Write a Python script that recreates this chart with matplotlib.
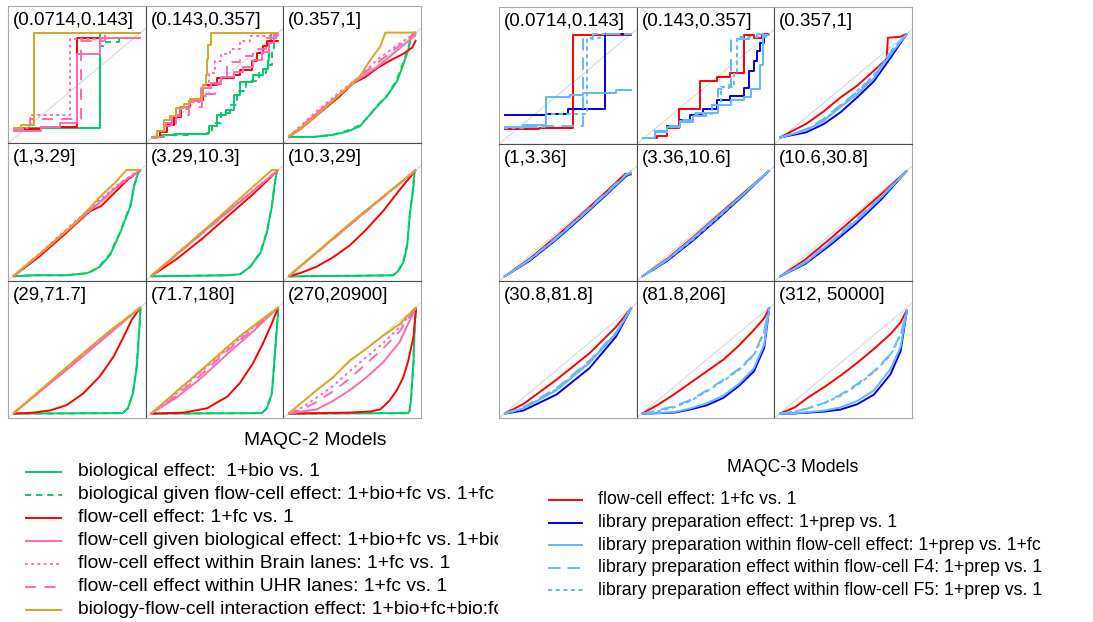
import matplotlib
matplotlib.use("Agg")
import matplotlib.pyplot as plt

plt.rcParams['font.family'] = ['Liberation Sans', 'DejaVu Sans']
plt.rcParams['lines.scale_dashes'] = False

W, H = 1093, 622

# ---------------- MAQC-2 (left grid) ----------------
# one (x, y) pair per count bin
m2_bins = ["(0.0714,0.143]", "(0.143,0.357]", "(0.357,1]",
           "(1,3.29]", "(3.29,10.3]", "(10.3,29]",
           "(29,71.7]", "(71.7,180]", "(270,20900]"]

m2_bio = [
    ([0, 0.68, 1], [0.10, 1.0, 1.0]),
    ([0, 0.07, 0.18, 0.44, 0.46, 0.52, 0.59, 0.65, 0.70, 0.80, 0.88, 0.92, 0.93, 0.94, 1.0],
     [0.02, 0.04, 0.05, 0.06, 0.12, 0.23, 0.27, 0.41, 0.54, 0.60, 0.66, 0.74, 0.90, 1.0, 1.0]),
    ([0, 0.2, 0.35, 0.46, 0.56, 0.61, 0.69, 0.77, 0.85, 0.90, 0.94, 0.96, 0.98, 1.0],
     [0.02, 0.02, 0.04, 0.07, 0.12, 0.19, 0.30, 0.40, 0.54, 0.70, 0.84, 0.96, 1.0, 1.0]),
    ([0, 0.16, 0.42, 0.5, 0.58, 0.62, 0.68, 0.76, 0.84, 0.92, 0.95, 0.98, 1.0],
     [0, 0.01, 0.01, 0.02, 0.03, 0.05, 0.09, 0.20, 0.41, 0.66, 0.85, 0.97, 1.0]),
    ([0, 0.3, 0.6, 0.70, 0.78, 0.86, 0.91, 0.95, 0.97, 0.99],
     [0, 0.005, 0.01, 0.02, 0.09, 0.22, 0.41, 0.66, 0.85, 1.0]),
    ([0, 0.5, 0.82, 0.86, 0.90, 0.93, 0.95, 0.98, 0.99],
     [0, 0.005, 0.01, 0.05, 0.13, 0.28, 0.56, 0.85, 1.0]),
    ([0, 0.5, 0.86, 0.90, 0.94, 0.97, 0.99, 1.0],
     [0, 0.003, 0.005, 0.05, 0.19, 0.44, 0.79, 1.0]),
    ([0, 0.5, 0.87, 0.91, 0.95, 0.97, 0.99, 1.0],
     [0, 0.003, 0.005, 0.05, 0.19, 0.51, 0.82, 1.0]),
    ([0, 0.5, 0.94, 0.95, 0.96, 0.98, 0.99, 1.0],
     [0, 0.003, 0.005, 0.03, 0.12, 0.47, 0.84, 1.0]),
]

m2_bio_fc = [
    ([0, 0.68, 0.73, 0.83, 1], [0.10, 0.87, 0.91, 1.0, 1.0]),
    ([0, 0.1, 0.3, 0.45, 0.48, 0.55, 0.62, 0.68, 0.75, 0.85, 0.90, 0.95, 0.97, 1.0],
     [0.02, 0.04, 0.05, 0.07, 0.15, 0.24, 0.32, 0.45, 0.55, 0.62, 0.70, 0.85, 1.0, 1.0]),
    ([0, 0.2, 0.35, 0.46, 0.56, 0.62, 0.70, 0.78, 0.85, 0.90, 0.94, 0.97, 1.0],
     [0.02, 0.02, 0.04, 0.08, 0.13, 0.20, 0.32, 0.42, 0.56, 0.72, 0.86, 0.97, 1.0]),
    ([0, 0.16, 0.42, 0.5, 0.58, 0.62, 0.68, 0.76, 0.84, 0.92, 0.95, 0.98, 1.0],
     [0, 0.01, 0.01, 0.02, 0.03, 0.05, 0.10, 0.21, 0.42, 0.67, 0.86, 0.97, 1.0]),
    ([0, 0.3, 0.6, 0.70, 0.78, 0.86, 0.91, 0.95, 0.97, 0.99],
     [0, 0.005, 0.01, 0.02, 0.09, 0.23, 0.42, 0.67, 0.86, 1.0]),
    ([0, 0.5, 0.82, 0.86, 0.90, 0.93, 0.95, 0.98, 0.99],
     [0, 0.005, 0.01, 0.05, 0.14, 0.29, 0.57, 0.86, 1.0]),
    ([0, 0.5, 0.86, 0.90, 0.94, 0.97, 0.99, 1.0],
     [0, 0.003, 0.005, 0.05, 0.20, 0.45, 0.80, 1.0]),
    ([0, 0.5, 0.87, 0.91, 0.95, 0.97, 0.99, 1.0],
     [0, 0.003, 0.005, 0.05, 0.20, 0.52, 0.83, 1.0]),
    ([0, 0.5, 0.94, 0.95, 0.96, 0.98, 0.99, 1.0],
     [0, 0.003, 0.005, 0.03, 0.13, 0.48, 0.85, 1.0]),
]

m2_fc = [
    ([0, 0.22, 0.50, 1], [0.09, 0.11, 0.95, 0.95]),
    ([0, 0.07, 0.13, 0.18, 0.24, 0.31, 0.41, 0.52, 0.65, 0.70, 0.79, 0.83, 0.88, 0.91, 1.0],
     [0.02, 0.07, 0.13, 0.21, 0.30, 0.37, 0.51, 0.57, 0.60, 0.65, 0.73, 0.81, 0.87, 0.92, 0.93]),
    ([0, 0.1, 0.2, 0.3, 0.4, 0.5, 0.6, 0.7, 0.8, 0.9, 0.97, 1.0],
     [0.02, 0.10, 0.20, 0.30, 0.40, 0.52, 0.58, 0.67, 0.74, 0.80, 0.86, 0.93]),
    ([0, 0.2, 0.4, 0.5, 0.6, 0.69, 0.75, 0.8, 0.9, 1.0],
     [0, 0.18, 0.39, 0.50, 0.61, 0.66, 0.73, 0.79, 0.91, 1.0]),
    ([0, 0.2, 0.4, 0.6, 0.8, 1.0], [0, 0.16, 0.35, 0.56, 0.77, 1.0]),
    ([0, 0.09, 0.22, 0.35, 0.48, 0.61, 0.74, 0.87, 1.0],
     [0, 0.03, 0.09, 0.18, 0.29, 0.44, 0.61, 0.81, 1.0]),
    ([0, 0.16, 0.29, 0.42, 0.55, 0.68, 0.79, 0.87, 0.93, 1.0],
     [0, 0.01, 0.03, 0.08, 0.19, 0.35, 0.54, 0.73, 0.88, 1.0]),
    ([0, 0.26, 0.44, 0.60, 0.70, 0.80, 0.88, 0.95, 1.0],
     [0, 0.01, 0.05, 0.16, 0.29, 0.47, 0.66, 0.85, 1.0]),
    ([0, 0.48, 0.64, 0.72, 0.79, 0.85, 0.90, 0.94, 0.98, 1.0],
     [0, 0.01, 0.02, 0.04, 0.12, 0.22, 0.34, 0.50, 0.72, 0.98]),
]

m2_fc_bio = [
    ([0, 0.22, 0.37, 0.50, 0.68, 1], [0.08, 0.11, 0.15, 0.80, 0.95, 0.95]),
    ([0, 0.05, 0.10, 0.17, 0.23, 0.30, 0.39, 0.47, 0.55, 0.65, 0.72, 0.80, 0.87, 0.93, 0.97, 1.0],
     [0.02, 0.08, 0.15, 0.22, 0.30, 0.36, 0.48, 0.53, 0.58, 0.63, 0.68, 0.74, 0.82, 0.90, 0.98, 1.0]),
    ([0, 0.1, 0.2, 0.3, 0.4, 0.5, 0.6, 0.7, 0.8, 0.9, 1.0],
     [0.02, 0.11, 0.22, 0.32, 0.42, 0.52, 0.60, 0.68, 0.78, 0.88, 0.98]),
    ([0, 0.25, 0.5, 0.7, 0.85, 1.0], [0, 0.25, 0.51, 0.72, 0.88, 1.0]),
    ([0, 0.5, 1.0], [0, 0.505, 1.0]),
    ([0, 0.5, 1.0], [0, 0.505, 1.0]),
    ([0, 0.5, 1.0], [0, 0.49, 1.0]),
    ([0, 0.2, 0.4, 0.6, 0.8, 1.0], [0, 0.15, 0.34, 0.56, 0.77, 1.0]),
    ([0, 0.11, 0.22, 0.35, 0.48, 0.61, 0.74, 0.87, 1.0],
     [0, 0.02, 0.04, 0.12, 0.22, 0.34, 0.48, 0.67, 1.0]),
]

m2_brain = [
    ([0, 0.13, 0.45, 0.73, 1], [0.10, 0.23, 0.94, 1.0, 1.0]),
    ([0, 0.1, 0.2, 0.3, 0.4, 0.46, 0.5, 0.55, 0.62, 0.7, 0.78, 1.0],
     [0.02, 0.13, 0.28, 0.35, 0.40, 0.62, 0.73, 0.80, 0.85, 0.92, 0.97, 1.0]),
    ([0, 0.1, 0.2, 0.3, 0.4, 0.55, 0.7, 0.85, 1.0],
     [0.02, 0.13, 0.24, 0.34, 0.44, 0.58, 0.75, 0.88, 1.0]),
    ([0, 0.25, 0.5, 0.7, 0.85, 1.0], [0, 0.26, 0.53, 0.74, 0.89, 1.0]),
    ([0, 0.5, 1.0], [0, 0.51, 1.0]),
    ([0, 0.5, 1.0], [0, 0.51, 1.0]),
    ([0, 0.5, 1.0], [0, 0.51, 1.0]),
    ([0, 0.2, 0.4, 0.6, 0.8, 1.0], [0, 0.19, 0.40, 0.61, 0.81, 1.0]),
    ([0, 0.11, 0.22, 0.35, 0.48, 0.61, 0.74, 0.87, 1.0],
     [0, 0.06, 0.15, 0.26, 0.40, 0.53, 0.66, 0.81, 1.0]),
]

m2_uhr = [
    ([0, 0.13, 0.53, 0.72, 1], [0.09, 0.19, 0.92, 1.0, 1.0]),
    ([0, 0.1, 0.2, 0.3, 0.4, 0.5, 0.55, 0.6, 0.7, 0.8, 0.9, 1.0],
     [0.02, 0.12, 0.23, 0.30, 0.42, 0.52, 0.58, 0.72, 0.78, 0.85, 0.95, 1.0]),
    ([0, 0.1, 0.2, 0.3, 0.4, 0.55, 0.7, 0.85, 1.0],
     [0.02, 0.12, 0.22, 0.32, 0.42, 0.58, 0.72, 0.86, 1.0]),
    ([0, 0.25, 0.5, 0.7, 0.85, 1.0], [0, 0.25, 0.52, 0.72, 0.87, 1.0]),
    ([0, 0.5, 1.0], [0, 0.50, 1.0]),
    ([0, 0.5, 1.0], [0, 0.50, 1.0]),
    ([0, 0.5, 1.0], [0, 0.50, 1.0]),
    ([0, 0.2, 0.4, 0.6, 0.8, 1.0], [0, 0.17, 0.37, 0.59, 0.79, 1.0]),
    ([0, 0.11, 0.22, 0.35, 0.48, 0.61, 0.74, 0.87, 1.0],
     [0, 0.04, 0.11, 0.21, 0.33, 0.47, 0.61, 0.77, 1.0]),
]

m2_inter = [
    ([0, 0.06, 0.16, 1], [0.10, 0.13, 1.0, 1.0]),
    ([0, 0.05, 0.10, 0.15, 0.20, 0.26, 0.31, 0.40, 0.41, 0.43, 0.44, 0.45, 0.47, 1.0],
     [0.01, 0.08, 0.18, 0.22, 0.29, 0.33, 0.38, 0.40, 0.51, 0.60, 0.75, 0.88, 1.0, 1.0]),
    ([0, 0.1, 0.22, 0.34, 0.46, 0.56, 0.64, 0.72, 0.76, 1.0],
     [0.02, 0.10, 0.22, 0.35, 0.48, 0.59, 0.74, 0.87, 1.0, 1.0]),
    ([0, 0.2, 0.47, 0.6, 0.7, 0.8, 0.89, 1.0], [0, 0.2, 0.48, 0.64, 0.77, 0.88, 1.0, 1.0]),
    ([0, 0.5, 0.95, 1.0], [0, 0.52, 1.0, 1.0]),
    ([0, 0.5, 1.0], [0, 0.515, 1.0]),
    ([0, 0.25, 0.5, 0.75, 1.0], [0, 0.26, 0.52, 0.77, 1.0]),
    ([0, 0.3, 0.5, 0.7, 1.0], [0, 0.31, 0.52, 0.73, 1.0]),
    ([0, 0.11, 0.22, 0.35, 0.48, 0.61, 0.74, 0.87, 1.0],
     [0, 0.11, 0.22, 0.34, 0.50, 0.61, 0.73, 0.84, 1.0]),
]

m2_labels = ["biological effect:  1+bio vs. 1",
             "biological given flow-cell effect: 1+bio+fc vs. 1+fc",
             "flow-cell effect: 1+fc vs. 1",
             "flow-cell given biological effect: 1+bio+fc vs. 1+bio",
             "flow-cell effect within Brain lanes: 1+fc vs. 1",
             "flow-cell effect within UHR lanes: 1+fc vs. 1",
             "biology-flow-cell interaction effect: 1+bio+fc+bio:fc vs. 1+bio+fc"]

# ---------------- MAQC-3 (right grid) ----------------
m3_bins = ["(0.0714,0.143]", "(0.143,0.357]", "(0.357,1]",
           "(1,3.36]", "(3.36,10.6]", "(10.6,30.8]",
           "(30.8,81.8]", "(81.8,206]", "(312, 50000]"]

m3_fc = [
    ([0, 0.27, 0.54, 1], [0.10, 0.11, 0.99, 0.99]),
    ([0, 0.12, 0.20, 0.29, 0.46, 0.59, 0.69, 0.80, 0.88, 0.94, 1.0],
     [0.02, 0.04, 0.11, 0.29, 0.555, 0.59, 0.63, 0.99, 0.96, 1.0, 1.0]),
    ([0, 0.08, 0.21, 0.35, 0.48, 0.61, 0.74, 0.84, 0.85, 0.95, 1.0],
     [0.02, 0.07, 0.15, 0.27, 0.40, 0.51, 0.65, 0.76, 0.96, 0.97, 1.0]),
    ([0, 0.2, 0.4, 0.6, 0.8, 0.95, 1.0], [0, 0.17, 0.37, 0.58, 0.80, 0.97, 0.96]),
    ([0, 0.2, 0.4, 0.6, 0.8, 1.0], [0, 0.17, 0.37, 0.58, 0.79, 1.0]),
    ([0, 0.2, 0.4, 0.6, 0.8, 1.0], [0, 0.16, 0.36, 0.57, 0.78, 1.0]),
    ([0, 0.15, 0.41, 0.67, 0.88, 1.0], [0, 0.09, 0.32, 0.57, 0.82, 1.0]),
    ([0, 0.12, 0.25, 0.38, 0.51, 0.64, 0.76, 0.88, 0.96, 1.0],
     [0, 0.08, 0.18, 0.29, 0.40, 0.51, 0.64, 0.79, 0.90, 1.0]),
    ([0, 0.12, 0.22, 0.35, 0.48, 0.61, 0.74, 0.87, 0.95, 1.0],
     [0, 0.06, 0.15, 0.25, 0.36, 0.48, 0.61, 0.75, 0.86, 0.98]),
]

m3_prep = [
    ([0, 0.33, 0.50, 0.79, 1], [0.23, 0.245, 0.29, 1.0, 1.0]),
    ([0, 0.1, 0.2, 0.3, 0.38, 0.48, 0.59, 0.69, 0.80, 0.84, 0.88, 0.90, 0.93, 0.96, 1.0],
     [0.02, 0.08, 0.13, 0.19, 0.23, 0.29, 0.37, 0.41, 0.49, 0.65, 0.74, 0.84, 0.91, 0.99, 1.0]),
    ([0, 0.21, 0.35, 0.48, 0.61, 0.74, 0.87, 1.0], [0.02, 0.07, 0.15, 0.26, 0.40, 0.55, 0.77, 1.0]),
    ([0, 0.2, 0.4, 0.6, 0.8, 0.95, 1.0], [0, 0.15, 0.34, 0.55, 0.77, 0.94, 0.98]),
    ([0, 0.2, 0.4, 0.6, 0.8, 1.0], [0, 0.15, 0.34, 0.55, 0.77, 1.0]),
    ([0, 0.2, 0.4, 0.6, 0.8, 1.0], [0, 0.12, 0.30, 0.50, 0.73, 1.0]),
    ([0, 0.15, 0.41, 0.67, 0.88, 1.0], [0, 0.03, 0.18, 0.43, 0.73, 1.0]),
    ([0, 0.12, 0.25, 0.38, 0.51, 0.64, 0.76, 0.88, 0.96, 1.0],
     [0, 0.005, 0.01, 0.04, 0.08, 0.15, 0.26, 0.40, 0.62, 1.0]),
    ([0, 0.12, 0.22, 0.35, 0.48, 0.61, 0.74, 0.87, 0.95, 1.0],
     [0, 0.003, 0.01, 0.02, 0.04, 0.09, 0.18, 0.37, 0.59, 0.98]),
]

m3_prep_fc = [
    ([0, 0.15, 0.33, 0.52, 0.62, 0.88, 1], [0.12, 0.14, 0.40, 0.42, 0.44, 0.47, 0.47]),
    ([0, 0.1, 0.2, 0.3, 0.4, 0.5, 0.6, 0.7, 0.8, 0.86, 0.93, 0.95, 1.0],
     [0.02, 0.07, 0.12, 0.17, 0.22, 0.25, 0.33, 0.37, 0.40, 0.48, 0.70, 0.99, 1.0]),
    ([0, 0.21, 0.35, 0.48, 0.61, 0.74, 0.87, 1.0], [0.02, 0.09, 0.18, 0.31, 0.43, 0.58, 0.80, 1.0]),
    ([0, 0.2, 0.4, 0.6, 0.8, 0.95, 1.0], [0, 0.16, 0.35, 0.56, 0.78, 0.95, 0.99]),
    ([0, 0.2, 0.4, 0.6, 0.8, 1.0], [0, 0.16, 0.36, 0.57, 0.78, 1.0]),
    ([0, 0.2, 0.4, 0.6, 0.8, 1.0], [0, 0.13, 0.32, 0.52, 0.75, 1.0]),
    ([0, 0.15, 0.41, 0.67, 0.88, 1.0], [0, 0.05, 0.22, 0.48, 0.76, 1.0]),
    ([0, 0.12, 0.25, 0.38, 0.51, 0.64, 0.76, 0.88, 0.96, 1.0],
     [0, 0.006, 0.015, 0.05, 0.10, 0.17, 0.28, 0.43, 0.65, 1.0]),
    ([0, 0.12, 0.22, 0.35, 0.48, 0.61, 0.74, 0.87, 0.95, 1.0],
     [0, 0.005, 0.015, 0.03, 0.06, 0.12, 0.22, 0.42, 0.63, 0.98]),
]

m3_f4 = [
    ([0, 0.3, 0.62, 0.70, 1], [0.12, 0.13, 0.95, 1.0, 1.0]),
    ([0, 0.1, 0.2, 0.3, 0.4, 0.55, 0.6, 0.68, 0.7, 0.85, 0.9, 1.0],
     [0.02, 0.08, 0.13, 0.19, 0.25, 0.33, 0.48, 0.52, 0.95, 0.97, 1.0, 1.0]),
    ([0, 0.21, 0.35, 0.48, 0.61, 0.74, 0.87, 1.0], [0.02, 0.10, 0.20, 0.33, 0.45, 0.60, 0.82, 1.0]),
    ([0, 0.2, 0.4, 0.6, 0.8, 0.95, 1.0], [0, 0.16, 0.36, 0.57, 0.79, 0.96, 0.98]),
    ([0, 0.2, 0.4, 0.6, 0.8, 1.0], [0, 0.16, 0.36, 0.57, 0.78, 1.0]),
    ([0, 0.2, 0.4, 0.6, 0.8, 1.0], [0, 0.14, 0.33, 0.54, 0.76, 1.0]),
    ([0, 0.15, 0.41, 0.67, 0.88, 1.0], [0, 0.06, 0.24, 0.50, 0.77, 1.0]),
    ([0, 0.12, 0.25, 0.38, 0.51, 0.64, 0.76, 0.88, 0.96, 1.0],
     [0, 0.03, 0.07, 0.13, 0.22, 0.32, 0.42, 0.56, 0.78, 1.0]),
    ([0, 0.12, 0.22, 0.35, 0.48, 0.61, 0.74, 0.87, 0.95, 1.0],
     [0, 0.02, 0.05, 0.10, 0.18, 0.28, 0.40, 0.56, 0.75, 0.98]),
]

m3_f5 = [
    ([0, 0.15, 0.33, 0.65, 0.75, 1], [0.11, 0.12, 0.24, 0.96, 1.0, 1.0]),
    ([0, 0.1, 0.2, 0.3, 0.4, 0.55, 0.62, 0.72, 0.75, 1.0],
     [0.02, 0.07, 0.12, 0.18, 0.24, 0.33, 0.50, 0.62, 0.97, 1.0]),
    ([0, 0.21, 0.35, 0.48, 0.61, 0.74, 0.87, 1.0], [0.02, 0.09, 0.19, 0.32, 0.46, 0.61, 0.83, 1.0]),
    ([0, 0.2, 0.4, 0.6, 0.8, 0.95, 1.0], [0, 0.16, 0.35, 0.57, 0.78, 0.95, 0.99]),
    ([0, 0.2, 0.4, 0.6, 0.8, 1.0], [0, 0.16, 0.35, 0.56, 0.78, 1.0]),
    ([0, 0.2, 0.4, 0.6, 0.8, 1.0], [0, 0.13, 0.32, 0.53, 0.75, 1.0]),
    ([0, 0.15, 0.41, 0.67, 0.88, 1.0], [0, 0.05, 0.23, 0.49, 0.76, 1.0]),
    ([0, 0.12, 0.25, 0.38, 0.51, 0.64, 0.76, 0.88, 0.96, 1.0],
     [0, 0.02, 0.06, 0.12, 0.21, 0.31, 0.41, 0.55, 0.77, 1.0]),
    ([0, 0.12, 0.22, 0.35, 0.48, 0.61, 0.74, 0.87, 0.95, 1.0],
     [0, 0.02, 0.05, 0.10, 0.17, 0.27, 0.39, 0.55, 0.74, 0.98]),
]

m3_labels = ["flow-cell effect: 1+fc vs. 1",
             "library preparation effect: 1+prep vs. 1",
             "library preparation within flow-cell effect: 1+prep vs. 1+fc",
             "library preparation effect within flow-cell F4: 1+prep vs. 1",
             "library preparation effect within flow-cell F5: 1+prep vs. 1"]

# colours / line types (R-like)
GREEN, RED, PINK, GOLD = '#00CD66', '#FF0000', '#FF69B4', '#DAA520'
BLUE, LBLUE = '#0000EE', '#63B8FF'

m2_series = [(m2_bio, GREEN, None), (m2_bio_fc, GREEN, (4.5, 3.5)),
             (m2_fc, RED, None), (m2_fc_bio, PINK, None),
             (m2_brain, PINK, (2, 2.5)), (m2_uhr, PINK, (8, 6)),
             (m2_inter, GOLD, None)]
m3_series = [(m3_fc, RED, None), (m3_prep, BLUE, None),
             (m3_prep_fc, LBLUE, None), (m3_f4, LBLUE, (9, 5)),
             (m3_f5, LBLUE, (3, 2.5))]

fig = plt.figure(figsize=(W / 100, H / 100), dpi=100)


def px_axes(x0, y0, w, h):
    # box given in pixels from the top-left corner
    return fig.add_axes([x0 / W, 1 - (y0 + h) / H, w / W, h / H])


def draw_line(ax, x, y, color, dashes, **kw):
    if dashes is None:
        ax.plot(x, y, color=color, lw=1.4, solid_capstyle='butt', **kw)
    else:
        ax.plot(x, y, color=color, lw=1.4, dashes=dashes, dash_capstyle='butt', **kw)


def draw_grid(x0, y0, cw, ch, bins, series):
    for i, label in enumerate(bins):
        r, c = divmod(i, 3)
        ax = px_axes(x0 + c * cw, y0 + r * ch, cw, ch)
        ax.set_xlim(-0.04, 1.04)
        ax.set_ylim(-0.04, 1.25)
        ax.set_xticks([])
        ax.set_yticks([])
        ax.axline((0, 0), (1, 1), color='#d3d3d3', lw=0.7, zorder=1)
        ds = 'steps-post' if i < 2 else 'default'
        for data, color, dashes in series:
            x, y = data[i]
            draw_line(ax, x, y, color, dashes, drawstyle=ds, zorder=2)
        ax.text(0.036, 0.955, label, transform=ax.transAxes, ha='left', va='top',
                fontsize=13.5)
        inner = {'left': c > 0, 'right': c < 2, 'top': r > 0, 'bottom': r < 2}
        for side, sp in ax.spines.items():
            sp.set_color('#4d4d4d' if inner[side] else '#a8a8a8')
            sp.set_linewidth(0.8)


draw_grid(8, 6, 137.7, 137.3, m2_bins, m2_series)
draw_grid(499, 7, 137.7, 137.0, m3_bins, m3_series)

# ---------------- legends ----------------
# left legend is cut off at the right edge, as in the original
lg = px_axes(0, 425, 498, 197)
lg.set_xlim(0, 498)
lg.set_ylim(622, 425)
lg.axis('off')
lg.text(315, 441, "MAQC-2 Models", ha='center', va='center', fontsize=13.9, clip_on=True)
for k, (lab, (_, color, dashes)) in enumerate(zip(m2_labels, m2_series)):
    yy = 471.7 + 23.05 * k
    draw_line(lg, [25, 62], [yy, yy], color, dashes)
    lg.text(78, yy, lab, ha='left', va='center', fontsize=13.9, clip_on=True)

rg = px_axes(520, 440, 573, 182)
rg.set_xlim(520, 1093)
rg.set_ylim(622, 440)
rg.axis('off')
rg.text(793, 468, "MAQC-3 Models", ha='center', va='center', fontsize=12.8)
for k, (lab, (_, color, dashes)) in enumerate(zip(m3_labels, m3_series)):
    yy = 500 + 22.6 * k
    draw_line(rg, [548, 583], [yy, yy], color, dashes)
    rg.text(598, yy, lab, ha='left', va='center', fontsize=12.8)

fig.savefig("out.png", dpi=100)
